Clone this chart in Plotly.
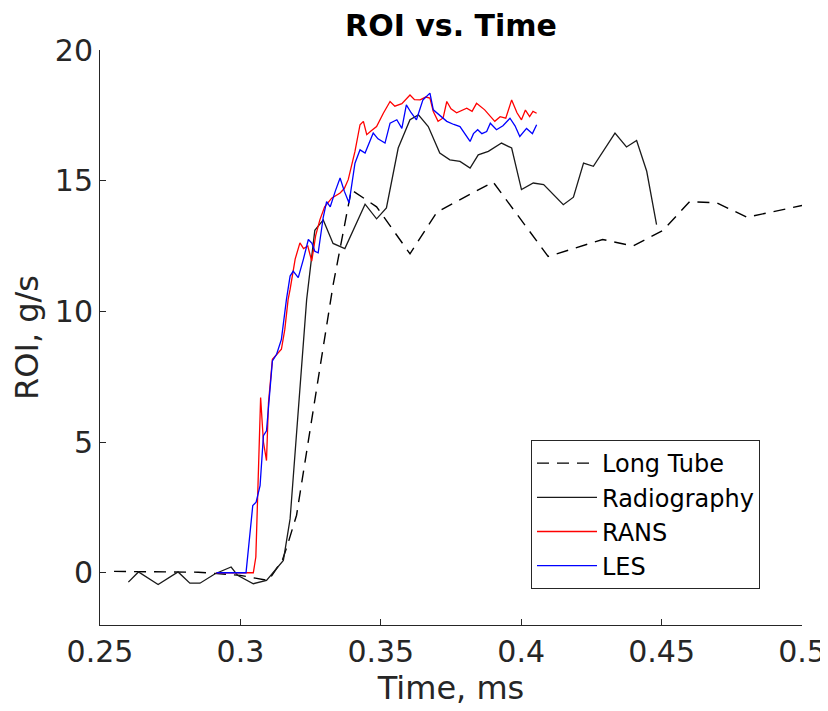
import plotly.graph_objects as go

# Long Tube (dashed)
lt_x = [0.255, 0.27, 0.285, 0.30, 0.31, 0.315, 0.3166, 0.32, 0.333, 0.3395, 0.3485, 0.3604, 0.370, 0.390, 0.4096, 0.429, 0.4398, 0.4505, 0.460, 0.4697, 0.4804, 0.500]
lt_y = [0.05, 0.03, 0.02, -0.1, -0.3, 0.5, 1.0, 2.2, 11.0, 14.65, 14.0, 12.2, 13.8, 14.95, 12.1, 12.75, 12.5, 13.1, 14.2, 14.15, 13.6, 14.05]

# Radiography (solid black)
rad_x = [0.2601, 0.2637, 0.2707, 0.2778, 0.282, 0.2856, 0.291, 0.2967, 0.299, 0.3046, 0.3093, 0.3153,
         0.3177, 0.3218, 0.3236, 0.3265, 0.3295, 0.333, 0.3372, 0.3444, 0.3485, 0.352, 0.3562, 0.3604,
         0.3634, 0.3669, 0.371, 0.3746, 0.3782, 0.3818, 0.3847, 0.3883, 0.393, 0.3966, 0.4001, 0.4043,
         0.408, 0.415, 0.4186, 0.4222, 0.4257, 0.4334, 0.4375, 0.4411, 0.4447, 0.4482]
rad_y = [-0.36, 0.03, -0.45, 0.03, -0.4, -0.4, -0.04, 0.22, -0.1, -0.42, -0.29, 0.47,
         2.06, 8.17, 10.46, 13.1, 13.5, 12.6, 12.4, 14.1, 13.54, 13.96, 16.25, 17.33,
         17.52, 17.07, 16.06, 15.8, 15.74, 15.48, 15.99, 16.12, 16.44, 16.25, 14.66, 14.91,
         14.85, 14.08, 14.37, 15.67, 15.55, 16.82, 16.29, 16.54, 15.36, 13.32]

# RANS (red)
rans_x = [0.2915, 0.300, 0.3046, 0.3055, 0.3072, 0.3082, 0.3093, 0.3100, 0.3114, 0.3146, 0.3158, 0.317,
          0.3177, 0.3195, 0.3212, 0.3225, 0.324, 0.3254, 0.3268, 0.3283, 0.3300, 0.3325, 0.3355, 0.337,
          0.3384, 0.3408, 0.3426, 0.3438, 0.345, 0.3465, 0.3485, 0.3509, 0.3533, 0.355, 0.3575, 0.3604,
          0.362, 0.364, 0.366, 0.3675, 0.3687, 0.3704, 0.3722, 0.3735, 0.375, 0.377, 0.379, 0.3806,
          0.3825, 0.3841, 0.387, 0.3906, 0.3925, 0.3945, 0.3966, 0.3985, 0.4001, 0.4015, 0.403, 0.4042, 0.4055]
rans_y = [0.0, 0.0, 0.0, 0.6, 6.7, 5.0, 4.29, 6.5, 8.17, 8.55, 9.3, 10.46,
          10.84, 12.0, 12.62, 12.4, 12.5, 11.92, 12.9, 13.5, 14.0, 14.33, 14.53, 14.7,
          15.04, 16.12, 17.14, 17.27, 16.76, 16.9, 17.07, 17.58, 18.03, 17.85, 17.95, 18.28,
          18.1, 18.09, 18.2, 18.16, 17.65, 17.27, 17.4, 18.03, 17.75, 17.6, 17.7, 17.77,
          17.65, 17.96, 17.71, 17.27, 17.45, 17.39, 18.09, 17.6, 17.33, 17.7, 17.45, 17.65, 17.58]

# LES (blue)
les_x = [0.2915, 0.2965, 0.302, 0.3044, 0.3056, 0.307, 0.3082, 0.3093, 0.3114, 0.3129, 0.3146, 0.3164,
         0.3177, 0.3188, 0.3206, 0.3224, 0.3242, 0.3255, 0.3265, 0.3277, 0.3295, 0.3307, 0.332, 0.3338,
         0.3355, 0.337, 0.3387, 0.3408, 0.3426, 0.3444, 0.346, 0.3473, 0.349, 0.3515, 0.3533, 0.3557,
         0.3575, 0.3591, 0.3608, 0.3627, 0.365, 0.3675, 0.3687, 0.371, 0.3735, 0.376, 0.3782, 0.3818,
         0.383, 0.3845, 0.386, 0.3877, 0.389, 0.3912, 0.3935, 0.396, 0.3978, 0.3995, 0.4019, 0.404, 0.4055]
les_y = [0.0, 0.0, 0.0, 2.57, 2.7, 3.33, 5.24, 5.43, 8.1, 8.36, 8.93, 10.46,
         11.35, 11.54, 11.29, 11.98, 12.75, 12.6, 12.3, 12.24, 13.6, 14.2, 14.0, 14.6,
         15.1, 14.6, 14.15, 15.67, 16.18, 16.06, 16.5, 16.82, 16.6, 16.44, 17.2, 17.33,
         17.0, 17.9, 17.6, 17.33, 18.09, 18.35, 17.71, 17.5, 17.27, 17.15, 17.07, 16.5,
         16.8, 16.95, 16.8, 16.88, 17.2, 16.95, 17.1, 17.39, 17.1, 16.69, 17.0, 16.8, 17.14]

FONT = "DejaVu Sans"
AX = "#262626"

fig = go.Figure()
fig.add_trace(go.Scatter(x=lt_x, y=lt_y, mode="lines", name="Long Tube",
                         line=dict(color="#000000", width=1.4, dash="12px,8px")))
fig.add_trace(go.Scatter(x=rad_x, y=rad_y, mode="lines", name="Radiography",
                         line=dict(color="#1a1a1a", width=1.3)))
fig.add_trace(go.Scatter(x=rans_x, y=rans_y, mode="lines", name="RANS",
                         line=dict(color="#ff0000", width=1.3)))
fig.add_trace(go.Scatter(x=les_x, y=les_y, mode="lines", name="LES",
                         line=dict(color="#0000ff", width=1.3)))

W, H = 820, 703  # page body has an 8px margin
fig.update_layout(
    width=W, height=H,
    margin=dict(l=92, r=26, t=42, b=86, autoexpand=False),
    plot_bgcolor="white", paper_bgcolor="white",
    font=dict(family=FONT, color=AX),
    title=dict(text="<b>ROI vs. Time</b>", x=0.5, xref="paper", xanchor="center",
               y=1 - 17 / H, yanchor="middle", yref="container",
               font=dict(family=FONT, size=30, color="#000000")),
    showlegend=True,
    legend=dict(x=(531 - 100) / 702, y=(625 - 440) / 575, xanchor="left", yanchor="top",
                bgcolor="white", bordercolor=AX, borderwidth=1,
                font=dict(family=FONT, size=24, color="#000000"),
                itemwidth=60, tracegroupgap=0),
)
fig.update_xaxes(range=[0.25, 0.5], tickvals=[0.25, 0.3, 0.35, 0.4, 0.45, 0.5],
                 ticktext=["0.25", "0.3", "0.35", "0.4", "0.45", "0.5"],
                 showgrid=False, zeroline=False, showline=True, linecolor=AX, linewidth=1,
                 ticks="inside", ticklen=6, tickcolor=AX, mirror=False, automargin=False,
                 tickfont=dict(family=FONT, size=30, color=AX),
                 title=dict(text="Time, ms", font=dict(family=FONT, size=32, color=AX), standoff=8))
fig.update_yaxes(range=[-2, 20], tickvals=[0, 5, 10, 15, 20],
                 showgrid=False, zeroline=False, showline=True, linecolor=AX, linewidth=1,
                 ticks="inside", ticklen=6, tickcolor=AX, mirror=False, automargin=False,
                 tickfont=dict(family=FONT, size=30, color=AX),
                 title=dict(text="ROI, g/s", font=dict(family=FONT, size=32, color=AX), standoff=10))

fig.write_html("out.html")
